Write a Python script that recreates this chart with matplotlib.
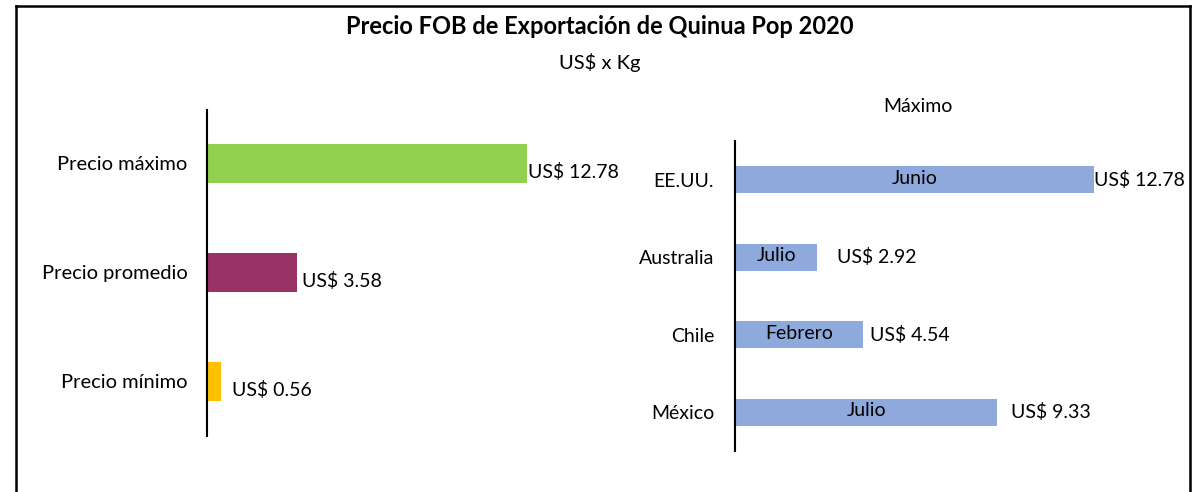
import matplotlib.pyplot as plt
from matplotlib.lines import Line2D

plt.rcParams['font.family'] = ['Lato', 'DejaVu Sans']

# left panel data
precios = ['Precio máximo', 'Precio promedio', 'Precio mínimo']
precio_vals = [12.78, 3.58, 0.56]
precio_colors = ['#92D050', '#993366', '#FFC000']

# right panel data
paises = ['EE.UU.', 'Australia', 'Chile', 'México']
paises_vals = [12.78, 2.92, 4.54, 9.33]
meses = ['Junio', 'Julio', 'Febrero', 'Julio']

W, H = 1202, 492
fig = plt.figure(figsize=(W / 100, H / 100), dpi=100)


def px_axes(x0, y0, x1, y1):
    return fig.add_axes([x0 / W, 1 - y1 / H, (x1 - x0) / W, (y1 - y0) / H])


# outer frame
for xs, ys in [([16, 16], [0, 6]), ([16, 1190], [6, 6]), ([1190, 1190], [6, 0])]:
    fig.add_artist(Line2D([x / W for x in xs], [1 - y / H if y else 0 for y in ys],
                          color='black', lw=1.8, transform=fig.transFigure))

fig.text(600 / W, 1 - 26 / H, 'Precio FOB de Exportación de Quinua Pop 2020',
         ha='center', va='center', fontsize=17, fontweight='bold')
fig.text(600 / W, 1 - 62 / H, 'US$ x Kg', ha='center', va='center', fontsize=14.5)
fig.text(918 / W, 1 - 106 / H, 'Máximo', ha='center', va='center', fontsize=14)

# left chart
ax1 = px_axes(207, 110, 607, 436)
ax1.barh(range(len(precios)), precio_vals, height=0.35, color=precio_colors)
ax1.set_ylim(2.5, -0.49)
ax1.set_xlim(0, 16)
ax1.set_yticks(range(len(precios)))
ax1.set_yticklabels(precios, fontsize=14.5)
ax1.set_xticks([])
ax1.tick_params(axis='y', length=0, pad=14)
for s in ['top', 'right', 'bottom']:
    ax1.spines[s].set_visible(False)
ax1.spines['left'].set_linewidth(1.5)
offs1 = [0.05, 0.2, 0.45]
for i, v in enumerate(precio_vals):
    ax1.text(v + offs1[i], i + 0.08, f'US$ {v:.2f}', va='center', ha='left', fontsize=14)

# right chart
ax2 = px_axes(735, 141, 1185, 451)
ax2.barh(range(len(paises)), paises_vals, height=0.35, color='#8EA9DB')
ax2.set_ylim(3.5, -0.5)
ax2.set_xlim(0, 16)
ax2.set_yticks(range(len(paises)))
ax2.set_yticklabels(paises, fontsize=14)
ax2.set_xticks([])
ax2.tick_params(axis='y', length=0, pad=15)
for s in ['top', 'right', 'bottom']:
    ax2.spines[s].set_visible(False)
ax2.spines['left'].set_linewidth(1.5)
offs2 = [0.0, 0.7, 0.25, 0.5]
for i, (v, m) in enumerate(zip(paises_vals, meses)):
    ax2.text(v + offs2[i], i, f'US$ {v:.2f}', va='center', ha='left', fontsize=14)
    ax2.text(v / 2, i - 0.02, m, va='center', ha='center', fontsize=14)

fig.savefig('out.png', dpi=100)
